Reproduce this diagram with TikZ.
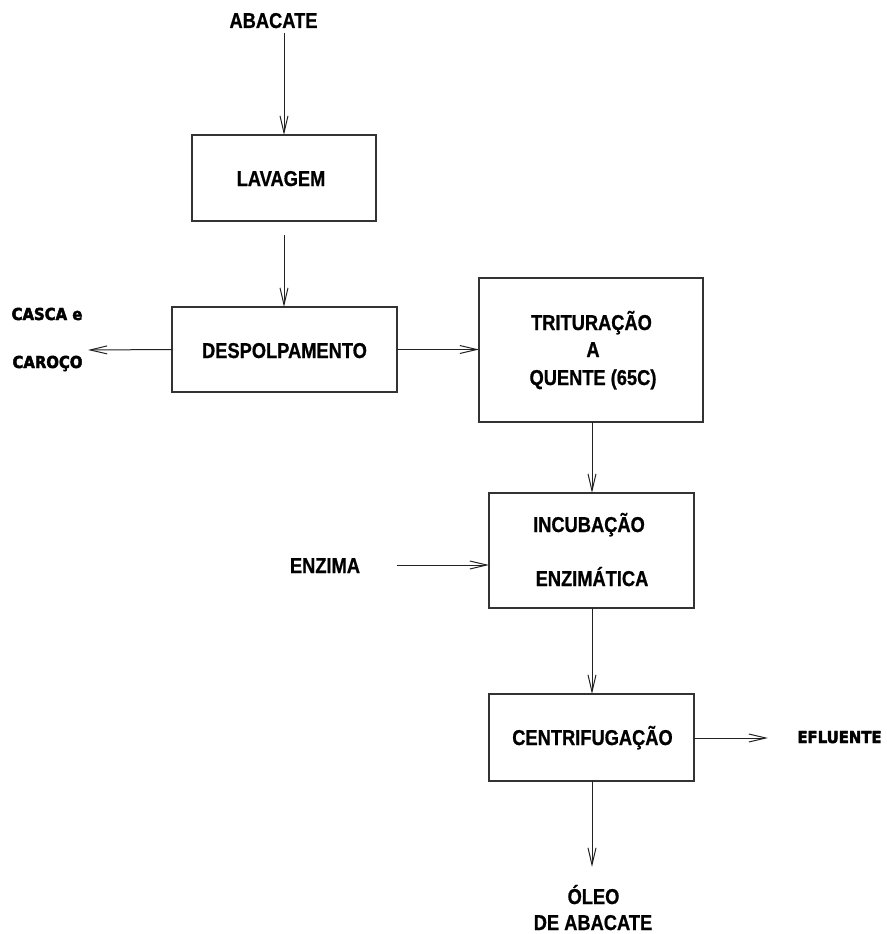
\documentclass[tikz,border=0pt]{standalone}
\usepackage{fontspec}
\setmainfont{Liberation Sans}[FakeStretch=0.85, BoldFeatures={FakeBold=0.8}]
\newfontfamily\heavyfont{DejaVu Sans Bold}[FakeBold=2.6, FakeStretch=0.9]
\usetikzlibrary{arrows.meta}
\definecolor{boxline}{HTML}{333333}
\definecolor{arrline}{HTML}{222222}
\tikzset{
  box/.style={draw=boxline, line width=1.3pt, rectangle, inner sep=0pt, outer sep=0pt},
  lbl/.style={anchor=base, inner sep=0pt, font=\fontsize{21.5}{26}\selectfont\bfseries},
  hlbl/.style={anchor=base, inner sep=0pt, font=\fontsize{16.5}{20}\selectfont\heavyfont},
  arr/.style={draw=arrline, line width=1pt, -{Straight Barb[length=17pt,width=8pt]}}
}
\begin{document}
\begin{tikzpicture}[x=1pt,y=-1pt]
\useasboundingbox (0,0) rectangle (886,934);

% boxes
\node[box, minimum width=184pt, minimum height=86pt] (lav) at (284,178) {};
\node[box, minimum width=225pt, minimum height=85pt] (desp) at (284.5,349.5) {};
\node[box, minimum width=224pt, minimum height=144pt] (trit) at (591,350) {};
\node[box, minimum width=205pt, minimum height=115pt] (incub) at (591.5,550.5) {};
\node[box, minimum width=205pt, minimum height=87pt] (centr) at (591.5,737.5) {};

% texts
\node[lbl] (abacate) at (273.5,28) {ABACATE};
\node[lbl] (tlav) at (281,186) {LAVAGEM};
\node[lbl] (tdesp) at (284.5,358) {DESPOLPAMENTO};
\node[hlbl] (casca) at (47,320) {CASCA e};
\node[hlbl] (caroco) at (47.5,368) {CAROÇO};
\node[lbl] (trit1) at (591.5,330) {TRITURAÇÃO};
\node[lbl] (trit2) at (593,357) {A};
\node[lbl] (trit3) at (593,385) {QUENTE (65C)};
\node[lbl] (enzima) at (325,573) {ENZIMA};
\node[lbl] (inc1) at (589,532) {INCUBAÇÃO};
\node[lbl] (inc2) at (592,586) {ENZIMÁTICA};
\node[lbl] (tcentr) at (592.5,745) {CENTRIFUGAÇÃO};
\node[hlbl] (efl) at (839.5,743) {EFLUENTE};
\node[lbl] (oleo1) at (593.5,904) {ÓLEO};
\node[lbl] (oleo2) at (593,930) {DE ABACATE};

% free ends
\coordinate (a0) at (284,33);
\coordinate (a1) at (284,235);
\coordinate (a2) at (88,350);
\coordinate (a3) at (397,565);
\coordinate (a4) at (768,738);
\coordinate (a5) at (592,867);
\coordinate (xm) at (592,0);

% connectors
\draw[arr] (a0) -- (lav.north);
\draw[arr] (a1) -- (a1 |- desp.north);
\draw[arr] (desp.west) -- (a2);
\draw[arr] (desp.east) -- (desp.east -| trit.west);
\draw[arr] (xm |- trit.south) -- (xm |- incub.north);
\draw[arr] (a3) -- (a3 -| incub.west);
\draw[arr] (xm |- incub.south) -- (xm |- centr.north);
\draw[arr] (a4 -| centr.east) -- (a4);
\draw[arr] (xm |- centr.south) -- (a5);
\end{tikzpicture}
\end{document}
